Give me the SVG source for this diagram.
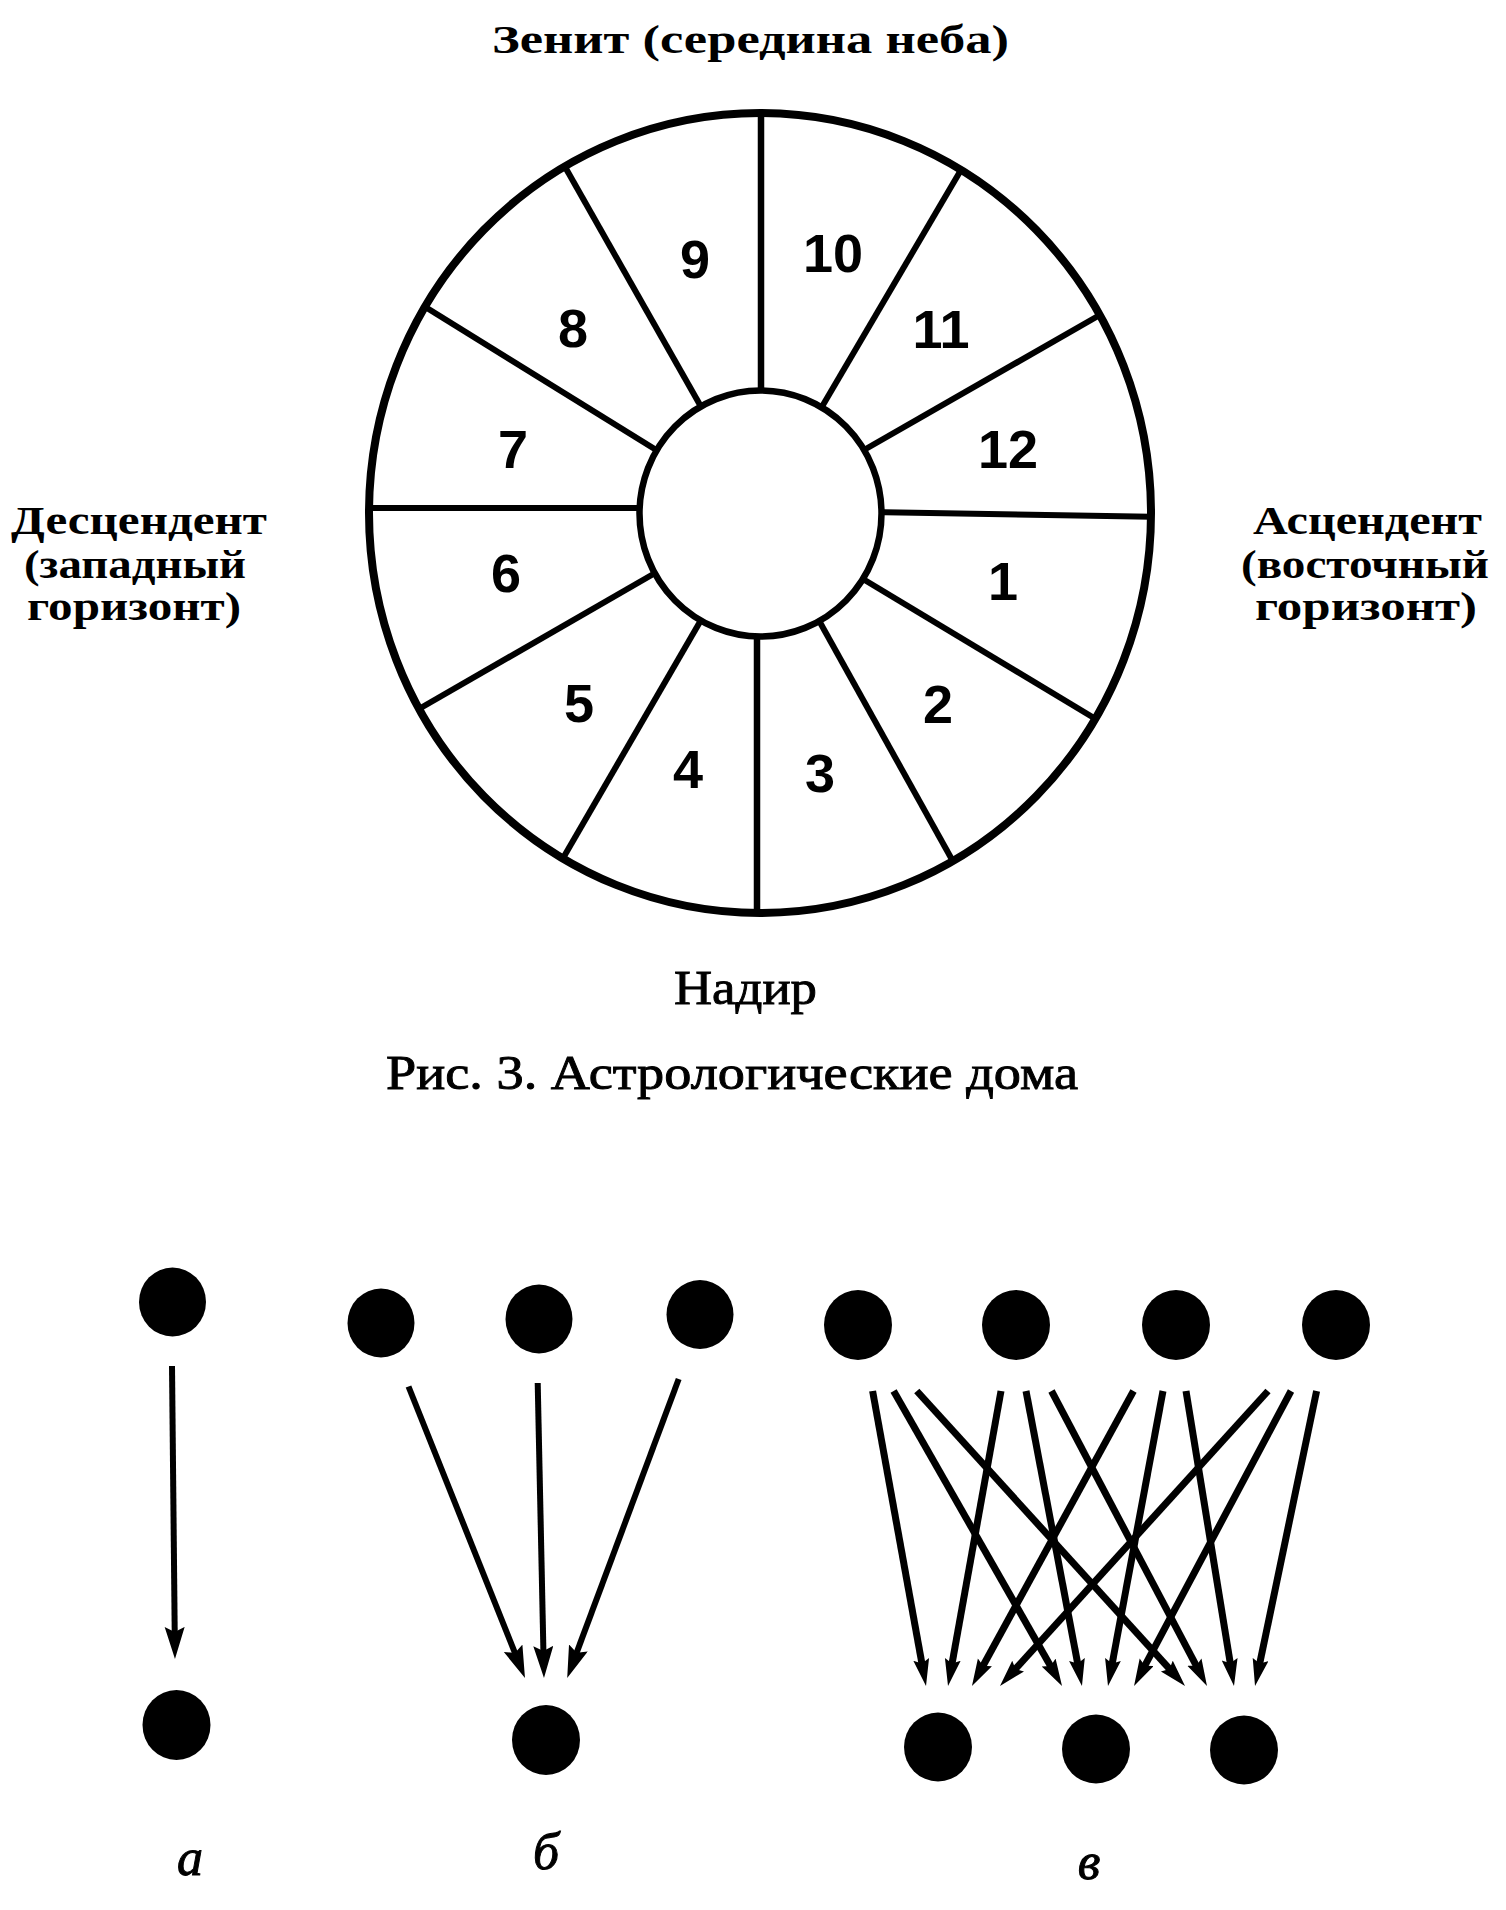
<svg xmlns="http://www.w3.org/2000/svg" width="1506" height="1910" viewBox="0 0 1506 1910">
<style>
  .lbl { font-family: "Liberation Serif", "DejaVu Serif", serif; font-weight: bold; font-size: 39px; fill: #000; }
  .cap { font-family: "Liberation Serif", "DejaVu Serif", serif; font-size: 48px; fill: #000; stroke: #000; stroke-width: 0.9; }
  .num { font-family: "Liberation Sans", Arial, sans-serif; font-weight: bold; font-size: 54px; fill: #000; text-anchor: middle; }
  .sub { font-family: "Liberation Serif", "DejaVu Serif", serif; font-style: italic; font-size: 52px; fill: #000; stroke: #000; stroke-width: 1; text-anchor: middle; }
  .div { stroke: #000; stroke-width: 6; fill: none; }
  .dot { fill: #000; }
  .arA { stroke: #000; stroke-width: 6; fill: none; marker-end: url(#ahA); }
  .arB { stroke: #000; stroke-width: 7; fill: none; marker-end: url(#ahB); }
</style>
<defs>
  <clipPath id="wheelClip">
    <ellipse cx="760" cy="513" rx="391" ry="400"/>
  </clipPath>
  <marker id="ahA" markerUnits="userSpaceOnUse" markerWidth="34" markerHeight="22" refX="14" refY="10" orient="auto">
    <path d="M0,0 L32,10 L0,20 L5,10 z" fill="#000"/>
  </marker>
  <marker id="ahB" markerUnits="userSpaceOnUse" markerWidth="30" markerHeight="18" refX="9" refY="8" orient="auto">
    <path d="M0,0 L27,8 L0,16 L4,8 z" fill="#000"/>
  </marker>
</defs>
<rect width="1506" height="1910" fill="#fff"/>

<g id="wheel">
  <g id="dividers" clip-path="url(#wheelClip)">
    <line class="div" x1="761" y1="400" x2="761" y2="95" style="stroke-width:6.5"/>
    <line class="div" x1="708" y1="419" x2="558" y2="154.6"/>
    <line class="div" x1="670" y1="458.5" x2="410" y2="297.5"/>
    <line class="div" x1="650" y1="508" x2="350" y2="508"/>
    <line class="div" x1="669" y1="565" x2="405" y2="717"/>
    <line class="div" x1="708" y1="608" x2="555" y2="872"/>
    <line class="div" x1="757" y1="620" x2="757" y2="930" style="stroke-width:6.5"/>
    <line class="div" x1="812" y1="608" x2="960" y2="874"/>
    <line class="div" x1="848" y1="570" x2="1109" y2="727"/>
    <line class="div" x1="870" y1="512" x2="1165" y2="517"/>
    <line class="div" x1="850" y1="458" x2="1112" y2="308"/>
    <line class="div" x1="813" y1="422" x2="968" y2="158"/>
  </g>
  <ellipse id="inner-circle" cx="760.5" cy="513.5" rx="121" ry="123" fill="#fff" stroke="#000" stroke-width="6.5"/>
  <ellipse id="outer-circle" cx="760" cy="513" rx="391" ry="400" fill="none" stroke="#000" stroke-width="8"/>
</g>

<g id="house-numbers">
  <text class="num" x="1003" y="600">1</text>
  <text class="num" x="938" y="723">2</text>
  <text class="num" x="820" y="792">3</text>
  <text class="num" x="688" y="788">4</text>
  <text class="num" x="579" y="722">5</text>
  <text class="num" x="506" y="592">6</text>
  <text class="num" x="513" y="468">7</text>
  <text class="num" x="573" y="347">8</text>
  <text class="num" x="695" y="278">9</text>
  <text class="num" x="833" y="272">10</text>
  <text class="num" x="941" y="348">11</text>
  <text class="num" x="1008" y="468">12</text>
</g>

<g id="label-zenith">
  <text class="lbl" x="492" y="53" textLength="517" lengthAdjust="spacingAndGlyphs">Зенит (середина неба)</text>
</g>
<g id="label-descendant">
  <text class="lbl" x="11" y="534" textLength="256" lengthAdjust="spacingAndGlyphs">Десцендент</text>
  <text class="lbl" x="24" y="578" textLength="222" lengthAdjust="spacingAndGlyphs">(западный</text>
  <text class="lbl" x="27" y="620" textLength="214" lengthAdjust="spacingAndGlyphs">горизонт)</text>
</g>
<g id="label-ascendant">
  <text class="lbl" x="1253" y="534" textLength="229" lengthAdjust="spacingAndGlyphs">Асцендент</text>
  <text class="lbl" x="1241" y="578" textLength="248" lengthAdjust="spacingAndGlyphs">(восточный</text>
  <text class="lbl" x="1255" y="620" textLength="222" lengthAdjust="spacingAndGlyphs">горизонт)</text>
</g>
<g id="label-nadir">
  <text class="cap" x="674" y="1004" textLength="143" lengthAdjust="spacingAndGlyphs">Надир</text>
</g>
<g id="caption">
  <text class="cap" x="386" y="1089" textLength="692" lengthAdjust="spacingAndGlyphs">Рис. 3. Астрологические дома</text>
</g>

<g id="fig-a">
  <ellipse class="dot" cx="172.5" cy="1302" rx="33.5" ry="34.5"/>
  <ellipse class="dot" cx="176.5" cy="1725" rx="34" ry="35"/>
  <text class="sub" x="190" y="1875">а</text>
</g>
<g id="fig-b">
  <ellipse class="dot" cx="381" cy="1323" rx="33.5" ry="34.5"/>
  <ellipse class="dot" cx="539" cy="1319" rx="33.5" ry="34.5"/>
  <ellipse class="dot" cx="700" cy="1314.5" rx="33.5" ry="34.5"/>
  <ellipse class="dot" cx="546" cy="1740" rx="34" ry="35"/>
  <text class="sub" x="546" y="1869">б</text>
</g>
<g id="fig-v">
  <ellipse class="dot" cx="858" cy="1325" rx="34" ry="35"/>
  <ellipse class="dot" cx="1016" cy="1325" rx="34" ry="35"/>
  <ellipse class="dot" cx="1176" cy="1325" rx="34" ry="35"/>
  <ellipse class="dot" cx="1336" cy="1325" rx="34" ry="35"/>
  <ellipse class="dot" cx="938" cy="1747" rx="34" ry="34.5"/>
  <ellipse class="dot" cx="1096" cy="1749" rx="34" ry="34.5"/>
  <ellipse class="dot" cx="1244" cy="1750" rx="34" ry="34.5"/>
  <text class="sub" x="1089" y="1879">в</text>
</g>

<g id="connectors">
  <line class="arA" x1="172" y1="1366" x2="174.8" y2="1641"/>
  <line class="arA" x1="408.5" y1="1386.5" x2="518.3" y2="1661.3"/>
  <line class="arA" x1="537.7" y1="1383" x2="543.6" y2="1660"/>
  <line class="arA" x1="678.7" y1="1379" x2="573.5" y2="1661.1"/>
  <line class="arB" x1="872.6" y1="1391" x2="922.8" y2="1668.3"/>
  <line class="arB" x1="893.6" y1="1391" x2="1053.1" y2="1670.4"/>
  <line class="arB" x1="916.8" y1="1391" x2="1172.9" y2="1672.7"/>
  <line class="arB" x1="1001" y1="1391" x2="951.2" y2="1668.3"/>
  <line class="arB" x1="1026" y1="1391" x2="1078.6" y2="1668.3"/>
  <line class="arB" x1="1051.5" y1="1391" x2="1198.6" y2="1670.1"/>
  <line class="arB" x1="1133.5" y1="1391" x2="980.6" y2="1670.2"/>
  <line class="arB" x1="1163" y1="1391" x2="1111.3" y2="1668.3"/>
  <line class="arB" x1="1186" y1="1391" x2="1231.1" y2="1668.2"/>
  <line class="arB" x1="1268" y1="1391" x2="1012.1" y2="1672.7"/>
  <line class="arB" x1="1291" y1="1391" x2="1142.5" y2="1670.1"/>
  <line class="arB" x1="1316.6" y1="1391" x2="1258.7" y2="1668.4"/>
</g>
</svg>
